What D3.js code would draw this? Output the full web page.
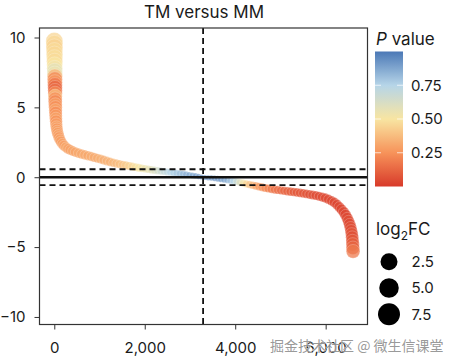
<!DOCTYPE html>
<html lang="en">
<head>
  <meta charset="UTF-8">
  <title>TM versus MM</title>
  <style>
    body { margin: 0; background: #fff; }
    svg { display: block; }
    text { font-family: Inter, "Noto Sans", sans-serif; fill: #1a1a1a; }
    .tick text { font-size: 15px; }
    .tick line { stroke: #333; }
  </style>
</head>
<body>
  <svg width="456" height="364"></svg>
  <script src="https://d3js.org/d3.v7.min.js"></script>
  <script>
    // genes sorted by log2 fold change (rank on x)
    const ranks = [1,2,3,4,5,6,7,8,9,10,11,12,13,14,15,16,17,18,19,20,22,24,26,28,30,33,36,40,44,50,57,65,
      75,90,105,125,150,180,215,255,300,350,405,465,530,600,
      670,740,810,880,950,1020,1090,1160,1230,1300,1370,1440,1510,1580,1650,1720,1790,1860,1930,2000,
      2070,2140,2210,2280,2350,2420,2490,2560,2630,2700,2770,2840,2910,2980,3050,3120,3190,3260,
      3330,3400,3470,3540,3610,3680,3750,3820,3890,3960,4030,4100,4170,4240,4310,4380,4450,4520,4590,4660,
      4730,4800,4870,4940,5010,5080,5150,5220,5290,5360,5430,5500,5570,5640,5710,5780,5850,5920,5990,6060,
      6130,6190,6250,6300,6350,6400,6440,6475,6505,6530,6550,6565,6577,6586,6593,6598,6602,6606];

    const log2fc = [9.75,9.55,9.3,9.05,8.8,8.55,8.3,8.05,7.8,7.6,7.4,7.2,7.0,6.8,6.6,6.4,6.2,6.0,5.8,5.6,
      5.4,5.2,5.0,4.8,4.6,4.4,4.2,4.0,3.8,3.6,3.45,3.3,
      3.15,3.0,2.85,2.7,2.55,2.4,2.27,2.15,2.05,1.96,1.88,1.8,1.73,1.66,
      1.6,1.54,1.48,1.42,1.36,1.3,1.23,1.16,1.1,1.04,0.99,0.94,0.89,0.85,0.8,0.76,0.72,0.68,0.64,0.61,
      0.57,0.54,0.5,0.47,0.44,0.41,0.38,0.35,0.32,0.29,0.26,0.23,0.2,0.16,0.12,0.09,0.05,0.02,
      -0.02,-0.04,-0.06,-0.08,-0.11,-0.14,-0.17,-0.2,-0.24,-0.28,-0.32,-0.37,-0.42,-0.47,-0.52,-0.57,-0.62,-0.67,-0.72,-0.77,
      -0.81,-0.85,-0.88,-0.91,-0.94,-0.97,-1.0,-1.03,-1.06,-1.09,-1.12,-1.15,-1.19,-1.23,-1.27,-1.31,-1.36,-1.42,-1.49,-1.58,
      -1.69,-1.81,-1.96,-2.12,-2.3,-2.5,-2.7,-2.92,-3.14,-3.37,-3.6,-3.83,-4.06,-4.3,-4.55,-4.8,-5.05,-5.3];

    const pvals = [0.45,0.46,0.44,0.47,0.46,0.48,0.47,0.5,0.53,0.58,0.55,0.35,0.22,0.26,0.17,0.12,0.15,0.22,0.38,0.25,
      0.22,0.28,0.24,0.3,0.23,0.27,0.3,0.25,0.28,0.3,0.27,0.3,
      0.28,0.3,0.27,0.3,0.28,0.3,0.29,0.31,0.3,0.29,0.31,0.3,0.32,0.31,
      0.32,0.31,0.33,0.32,0.33,0.34,0.33,0.35,0.34,0.36,0.37,0.38,0.4,0.42,0.44,0.46,0.48,0.5,0.52,0.54,
      0.56,0.58,0.61,0.64,0.67,0.7,0.72,0.75,0.77,0.79,0.81,0.83,0.85,0.87,0.88,0.9,0.91,0.92,
      0.92,0.93,0.93,0.92,0.91,0.9,0.88,0.85,0.8,0.74,0.67,0.6,0.52,0.45,0.4,0.35,0.3,0.27,0.24,0.22,
      0.2,0.18,0.16,0.15,0.13,0.12,0.11,0.1,0.09,0.08,0.08,0.07,0.07,0.06,0.06,0.05,0.05,0.05,0.04,0.04,
      0.04,0.04,0.03,0.04,0.03,0.04,0.03,0.04,0.05,0.04,0.06,0.05,0.07,0.06,0.08,0.1,0.12,0.18];

    const xTicks = [0, 2000, 4000, 6000];
    const yTicks = [-10, -5, 0, 5, 10];
    const pTicks = [0.25, 0.5, 0.75];
    const sizeBreaks = [2.5, 5.0, 7.5];
    const fcCut = 0.57;       // dashed fold-change thresholds
    const medianRank = 3290;  // vertical dashed line

    const genes = ranks.map((r, i) => ({ rank: r, fc: log2fc[i], p: pvals[i] }));

    const svg = d3.select("svg");
    const panel = { left: 39.5, right: 367.5, top: 28, bottom: 324.5 };

    const x = d3.scaleLinear().domain([-327, 6925]).range([panel.left, panel.right]);
    const y = d3.scaleLinear().domain([-10.54, 10.68]).range([panel.bottom, panel.top]);
    const r = d3.scaleSqrt().domain([0, 9.75]).range([2.25, 8.5]);
    const color = d3.scaleLinear()
      .domain([0, 0.25, 0.5, 0.75, 1])
      .range(["#d83a2a", "#f7935a", "#f8e5a2", "#b6d5e8", "#4b78b6"]);

    // title
    svg.append("text")
      .attr("x", 204).attr("y", 17.5)
      .attr("text-anchor", "middle")
      .style("font-size", "17px")
      .text("TM versus MM");

    // points
    svg.append("g")
      .selectAll("circle")
      .data(genes)
      .join("circle")
      .attr("cx", d => x(d.rank))
      .attr("cy", d => y(d.fc))
      .attr("r", d => r(Math.abs(d.fc)))
      .attr("fill", d => color(d.p))
      .attr("fill-opacity", 0.74)
      .attr("stroke", "#fff")
      .attr("stroke-opacity", 0.45)
      .attr("stroke-width", 0.5);

    // reference lines
    const lines = svg.append("g");
    lines.selectAll("line.h")
      .data([fcCut, -fcCut])
      .join("line")
      .attr("x1", panel.left).attr("x2", panel.right)
      .attr("y1", d => y(d)).attr("y2", d => y(d))
      .attr("stroke", "#111").attr("stroke-width", 1.8)
      .attr("stroke-dasharray", "6,4");
    lines.append("line")
      .attr("x1", panel.left).attr("x2", panel.right)
      .attr("y1", y(0)).attr("y2", y(0))
      .attr("stroke", "#111").attr("stroke-width", 2.6);
    lines.append("line")
      .attr("x1", x(medianRank)).attr("x2", x(medianRank))
      .attr("y1", panel.top).attr("y2", panel.bottom)
      .attr("stroke", "#111").attr("stroke-width", 1.8)
      .attr("stroke-dasharray", "6,4");

    // panel border
    svg.append("rect")
      .attr("x", panel.left).attr("y", panel.top)
      .attr("width", panel.right - panel.left)
      .attr("height", panel.bottom - panel.top)
      .attr("fill", "none").attr("stroke", "#333").attr("stroke-width", 1.2);

    // axes
    const yAxis = svg.append("g")
      .attr("transform", `translate(${panel.left},0)`)
      .call(d3.axisLeft(y).tickValues(yTicks).tickSize(5).tickPadding(9)
        .tickFormat(d => d < 0 ? "\u2212" + Math.abs(d) : d));
    yAxis.select(".domain").remove();

    const xAxis = svg.append("g")
      .attr("transform", `translate(0,${panel.bottom})`)
      .call(d3.axisBottom(x).tickValues(xTicks).tickSize(5).tickPadding(13)
        .tickFormat(d3.format(",")));
    xAxis.select(".domain").remove();

    // P value colour bar
    const py = d3.scaleLinear().domain([0, 1]).range([186.5, 51.5]);
    const grad = svg.append("defs").append("linearGradient")
      .attr("id", "pgrad").attr("x1", 0).attr("x2", 0).attr("y1", 1).attr("y2", 0);
    grad.selectAll("stop")
      .data(d3.range(0, 1.01, 0.05))
      .join("stop")
      .attr("offset", d => d)
      .attr("stop-color", d => color(d));

    svg.append("rect")
      .attr("x", 375).attr("y", py(1))
      .attr("width", 28).attr("height", py(0) - py(1))
      .attr("fill", "url(#pgrad)");

    const cbTicks = svg.append("g");
    pTicks.forEach(t => {
      cbTicks.append("line").attr("x1", 375).attr("x2", 381)
        .attr("y1", py(t)).attr("y2", py(t))
        .attr("stroke", "#fff").attr("stroke-opacity", 0.7);
      cbTicks.append("line").attr("x1", 397).attr("x2", 403)
        .attr("y1", py(t)).attr("y2", py(t))
        .attr("stroke", "#fff").attr("stroke-opacity", 0.7);
    });
    svg.append("g")
      .selectAll("text")
      .data(pTicks)
      .join("text")
      .attr("x", 411).attr("y", d => py(d))
      .attr("dy", "0.36em")
      .style("font-size", "15px")
      .text(d3.format(".2f"));

    const pTitle = svg.append("text")
      .attr("x", 376).attr("y", 45)
      .style("font-size", "17px");
    pTitle.append("tspan").style("font-style", "italic").text("P");
    pTitle.append("tspan").text(" value");

    // log2FC size legend
    const fcTitle = svg.append("text")
      .attr("x", 376).attr("y", 235)
      .style("font-size", "17px");
    fcTitle.append("tspan").text("log");
    fcTitle.append("tspan").attr("dy", 5).style("font-size", "12px").text("2");
    fcTitle.append("tspan").attr("dy", -5).text("FC");

    const legR = d3.scaleLinear().domain([2.5, 7.5]).range([8.5, 11]);
    const legY = d3.scaleLinear().domain([2.5, 7.5]).range([261.7, 314.3]);
    const leg = svg.append("g")
      .selectAll("g")
      .data(sizeBreaks)
      .join("g")
      .attr("transform", d => `translate(389,${legY(d)})`);
    leg.append("circle")
      .attr("r", d => legR(d))
      .attr("fill", "#000");
    leg.append("text")
      .attr("x", 22.5).attr("dy", "0.36em")
      .style("font-size", "15px")
      .text(d3.format(".1f"));

    // site watermark (sits over the 6,000 label, as in the source image)
    svg.append("text")
      .attr("x", 270).attr("y", 351)
      .style("font-family", "'Noto Sans CJK SC', sans-serif")
      .style("font-size", "14px")
      .style("fill", "#8c8c8c")
      .style("fill-opacity", 0.9)
      .style("stroke", "#fff")
      .style("stroke-width", 0.6)
      .style("paint-order", "stroke")
      .text("掘金技术社区 @ 微生信课堂");
  </script>
</body>
</html>
